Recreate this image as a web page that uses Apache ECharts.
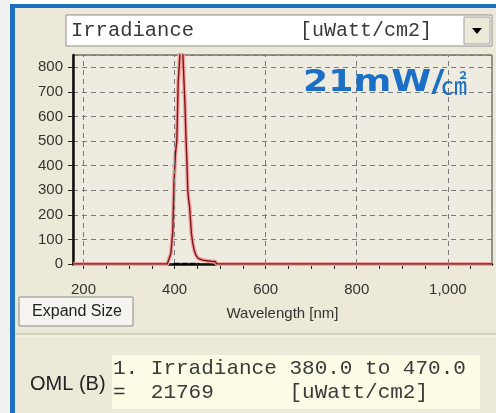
<!DOCTYPE html>
<html>
<head>
<meta charset="utf-8">
<script src="https://cdn.jsdelivr.net/npm/echarts@6/dist/echarts.min.js"></script>
<style>
  html, body { margin: 0; padding: 0; background: #fff; }
  #chart { width: 496px; height: 413px; }
</style>
</head>
<body>
<div id="chart"></div>
<script>
// spectrum (nm, uWatt/cm2)
const wavelength = [178, 384, 387, 392, 396, 399, 402, 405, 408, 411, 413, 415, 417, 419, 421, 423, 425, 427, 429, 431, 433, 437, 440, 443, 447, 452, 460, 467, 480, 489, 493, 1097];
const irradiance = [0, 0, 5, 43, 131, 341, 449, 503, 740, 828, 900, 930, 910, 820, 730, 640, 520, 420, 300, 260, 233, 124, 85, 57, 35, 23, 17, 14, 11, 10, 0, 0];
// dark dashed reference at the baseline under the peak
const refWavelength = [398, 454];
const refValue = [0, 0];

const xTicks = [200, 400, 600, 800, 1000];
const xMinorTicks = [200, 250, 300, 350, 400, 450, 500, 550, 600, 650, 700, 750, 800, 850, 900, 950, 1000, 1050];
const yTicks = [0, 100, 200, 300, 400, 500, 600, 700, 800];

const spectrum = wavelength.map((w, i) => [w, irradiance[i]]);
const reference = refWavelength.map((w, i) => [w, refValue[i]]);

const mono = 'Liberation Mono';
const sans = 'Liberation Sans';
const gridDash = { color: '#7a7a7a', type: [5, 4], width: 1 };

const chart = echarts.init(document.getElementById('chart'));

chart.setOption({
  animation: false,
  backgroundColor: '#ffffff',
  grid: {
    left: 73,
    right: 4,
    top: 55,
    bottom: 149,
    show: true,
    backgroundColor: '#EEEBE1',
    borderColor: '#3a3a3a',
    borderWidth: 1
  },
  xAxis: {
    type: 'value',
    min: 177,
    max: 1097,
    name: 'Wavelength [nm]',
    nameLocation: 'middle',
    nameGap: 42,
    nameTextStyle: { fontFamily: sans, fontSize: 15, color: '#333', verticalAlign: 'top' },
    axisLine: { lineStyle: { color: '#111', width: 2.5 } },
    axisTick: { show: true, length: 5, customValues: xMinorTicks, lineStyle: { color: '#222' } },
    axisLabel: {
      margin: 18,
      fontFamily: sans,
      fontSize: 15,
      color: '#333',
      customValues: xTicks,
      formatter: v => v.toLocaleString('en-US')
    },
    splitLine: { show: false }
  },
  yAxis: {
    type: 'value',
    min: 0,
    max: 850,
    interval: 100,
    axisLine: { show: true, lineStyle: { color: '#111', width: 2.5 } },
    axisTick: { show: true, length: 5, lineStyle: { color: '#222' } },
    axisLabel: {
      margin: 10,
      fontFamily: sans,
      fontSize: 15,
      color: '#333',
      showMaxLabel: false,
      formatter: v => (yTicks.indexOf(v) >= 0 ? String(v) : '')
    },
    splitLine: { show: true, lineStyle: gridDash }
  },
  series: [
    {
      name: 'xgrid',
      type: 'line',
      data: [],
      z: 1,
      silent: true,
      markLine: {
        silent: true,
        symbol: 'none',
        label: { show: false },
        lineStyle: gridDash,
        data: xTicks.map(v => ({ xAxis: v }))
      }
    },
    {
      name: 'halo',
      type: 'line',
      data: spectrum,
      symbol: 'none',
      lineStyle: { color: '#f3a5a5', width: 4 },
      z: 3
    },
    {
      name: 'Irradiance',
      type: 'line',
      data: spectrum,
      symbol: 'none',
      lineStyle: { color: '#7d1515', width: 1.4 },
      z: 4
    },
    {
      name: 'reference',
      type: 'line',
      data: reference,
      symbol: 'none',
      lineStyle: { color: '#000', width: 2.5, type: [6, 2] },
      z: 5
    }
  ],
  graphic: [
    // window chrome
    { type: 'rect', z: -10, shape: { x: 0, y: 0, width: 10, height: 413 }, style: { fill: '#f1f1f1' } },
    { type: 'rect', z: -10, shape: { x: 15, y: 8, width: 481, height: 405 }, style: { fill: '#ECE9D8' } },
    { type: 'rect', z: -9, shape: { x: 10, y: 4, width: 486, height: 4 }, style: { fill: '#1f6fc0' } },
    { type: 'rect', z: -9, shape: { x: 10, y: 4, width: 5, height: 409 }, style: { fill: '#1f6fc0' } },
    // dropdown
    { type: 'rect', shape: { x: 66, y: 15, width: 426, height: 31 }, style: { fill: '#fff', stroke: '#8c8c8c', lineWidth: 1 } },
    { type: 'rect', shape: { x: 464, y: 17, width: 26, height: 27 }, style: { fill: '#ECE9D8', stroke: '#a0a0a0', lineWidth: 1 } },
    { type: 'polygon', shape: { points: [[472, 28], [482, 28], [477, 34]] }, style: { fill: '#000' } },
    { type: 'text', x: 71, y: 31, style: { text: 'Irradiance', font: '20.5px ' + mono, fill: '#3a3a3a', verticalAlign: 'middle' } },
    { type: 'text', x: 300, y: 31, style: { text: '[uWatt/cm2]', font: '20px ' + mono, fill: '#3a3a3a', verticalAlign: 'middle' } },
    // annotation
    { type: 'text', x: 303, y: 98, scaleX: 1.17, z: 10, style: { text: '21mW/', font: 'bold 31px "DejaVu Sans"', fill: '#1b6fc6', verticalAlign: 'bottom' } },
    { type: 'text', x: 441, y: 71, z: 10, style: { text: '㎠', font: '26px "Noto Sans CJK KR"', fill: '#1b6fc6', verticalAlign: 'top' } },
    // expand button
    { type: 'rect', shape: { x: 19, y: 297, width: 114, height: 29 }, style: { fill: '#F5F4EE', stroke: '#8a8a8a', lineWidth: 1 } },
    { type: 'text', x: 77, y: 312, style: { text: 'Expand Size', font: '16px ' + sans, fill: '#222', align: 'center', verticalAlign: 'middle' } },
    // separator
    { type: 'line', shape: { x1: 15, y1: 334, x2: 496, y2: 334 }, style: { stroke: '#bdb9aa', lineWidth: 1 } },
    { type: 'line', shape: { x1: 15, y1: 336, x2: 496, y2: 336 }, style: { stroke: '#f8f7f2', lineWidth: 1 } },
    // result panel
    { type: 'text', x: 30, y: 384, style: { text: 'OML (B)', font: '20px ' + sans, fill: '#222', verticalAlign: 'middle' } },
    { type: 'rect', shape: { x: 112, y: 355, width: 368, height: 54 }, style: { fill: '#FBFBE6' } },
    { type: 'text', x: 113, y: 368, style: { text: '1. Irradiance 380.0 to 470.0', font: '21px ' + mono, fill: '#3a3a3a', verticalAlign: 'middle' } },
    { type: 'text', x: 113, y: 392, style: { text: '=  21769      [uWatt/cm2]', font: '21px ' + mono, fill: '#3a3a3a', verticalAlign: 'middle' } }
  ]
});
</script>
</body>
</html>
